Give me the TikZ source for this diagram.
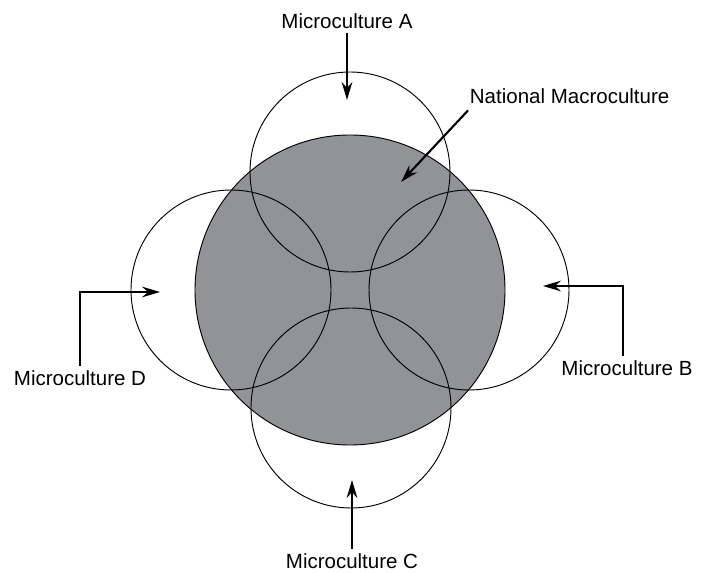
\documentclass[tikz,border=0pt]{standalone}
\usepackage{fontspec}
\setmainfont{Liberation Sans}
\usepackage{tikz}
\usetikzlibrary{arrows.meta, positioning, calc}
\definecolor{macroGrey}{RGB}{146,147,151}
\tikzstyle{arrow} = [-{Stealth[length=5.4mm, width=3.2mm, inset=1.8mm]}, line width=1.8pt]

\begin{document}
\begin{tikzpicture}[
  x=0.03cm, y=-0.03cm,
  macro/.style={circle, draw, fill=macroGrey, line width=0.8pt, minimum size=9.3cm, inner sep=0pt},
  micro/.style={circle, draw, line width=0.8pt, minimum size=6cm, inner sep=0pt},
  caption/.style={font=\fontsize{17.5}{20}\selectfont, inner sep=4pt}
]
\useasboundingbox (0,0) rectangle (703,573);

% National macroculture
\node[macro] (nation) at (350,290) {};

% Microcultures
\node[micro] (microA) at (350,172) {};
\node[micro] (microB) at (469,290) {};
\node[micro] (microC) at (351,408) {};
\node[micro] (microD) at (231,290) {};

% Labels
\node[caption] (labA) at (347,21) {Microculture A};
\node[caption] (labB) at (627,368) {Microculture B};
\node[caption] (labC) at (352,561) {Microculture C};
\node[caption] (labD) at (80,378) {Microculture D};
\node[caption, anchor=west] (labN) at (465,96) {National Macroculture};

% Arrow tips
\coordinate (tipA) at (347,100);
\coordinate (tipB) at (543,286);
\coordinate (tipC) at (352,480);
\coordinate (tipD) at (160,292);
\coordinate (tipN) at (401,182);

% Arrows
\draw[arrow] (labA.south) -- (tipA);
\draw[arrow] ($(labB.north)+(-4,0)$) |- (tipB);
\draw[arrow] (labC.north) -- (tipC);
\draw[arrow] (labD.north) |- (tipD);
\draw[arrow] ($(labN.south west)+(3,2)$) -- (tipN);

\end{tikzpicture}
\end{document}
